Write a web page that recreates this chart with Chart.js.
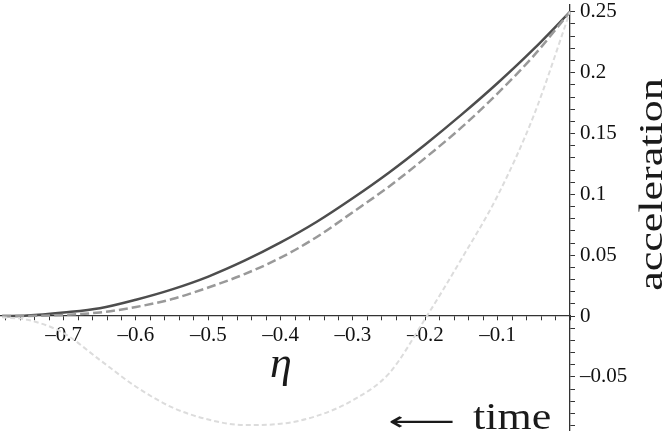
<!DOCTYPE html>
<html>
<head>
<meta charset="utf-8">
<script src="https://cdn.jsdelivr.net/npm/chart.js@4/dist/chart.umd.min.js"></script>
<style>
  html, body { margin: 0; padding: 0; background: #fff; }
  #wrap { width: 664px; height: 436px; }
</style>
</head>
<body>
<div id="wrap"><canvas id="myChart" width="664" height="436"></canvas></div>
<script>
// conformal time eta (x) and the three acceleration curves
const eta = [-0.785, -0.75, -0.7, -0.65, -0.6, -0.55, -0.5, -0.45, -0.4, -0.35, -0.3, -0.25, -0.2, -0.15, -0.1, -0.05, 0];
const solidAcc = [0, 0.0005, 0.003, 0.0065, 0.0135, 0.022, 0.0325, 0.0455, 0.0605, 0.0775, 0.097, 0.118, 0.141, 0.1655, 0.1915, 0.2195, 0.25];
const dashedAcc = [0, 0.0001, 0.001, 0.003, 0.0075, 0.014, 0.0235, 0.0345, 0.048, 0.065, 0.0855, 0.1065, 0.13, 0.155, 0.183, 0.214, 0.25];
const dottedAcc = [-0.001, -0.003, -0.014, -0.036, -0.058, -0.075, -0.085, -0.0895, -0.0885, -0.082, -0.069, -0.047, -0.002, 0.047, 0.099, 0.165, 0.25];

// tick positions (hundredths) and which of them carry a label
const xTickSteps = [];
for (let k = -78; k <= 0; k += 2) xTickSteps.push(k);
const yTickSteps = [];
for (let k = -9; k <= 25; k++) yTickSteps.push(k);
const xLabelSteps = [-70, -60, -50, -40, -30, -20, -10];
const yLabelSteps = [-5, 0, 5, 10, 15, 20, 25];

const serif = '"Liberation Serif", "DejaVu Serif", serif';

const fmt = (k) => {
  if (k === 0) return "0";
  return (k < 0 ? "\u2013" : "") + String(Math.abs(k) / 100);
};

const toPoints = (ys) => eta.map((x, i) => ({ x: x, y: ys[i] }));

const textPlugin = {
  id: "textPlugin",
  afterDraw(chart) {
    const c = chart.ctx;
    c.save();
    c.fillStyle = "#1a1a1a";

    // eta under the x axis
    c.font = "italic 44px " + serif;
    c.textAlign = "center";
    c.textBaseline = "alphabetic";
    c.fillText("\u03b7", 281, 377);

    // "time" with the arrow in front of it
    c.save();
    c.translate(473, 429);
    c.scale(1, 0.85);
    c.textAlign = "left";
    c.font = "44px " + serif;
    c.fillText("time", 0, 0);
    c.restore();

    c.save();
    c.font = "26px \"DejaVu Sans\"";
    const w = c.measureText("\u27f5").width;
    c.translate(388, 423);
    c.scale(67 / w, 1);
    c.textAlign = "left";
    c.textBaseline = "middle";
    c.fillText("\u27f5", 0, 0);
    c.restore();

    // y axis title, reading upwards
    c.save();
    c.translate(662, 184.5);
    c.rotate(-Math.PI / 2);
    c.scale(1, 0.78);
    c.textAlign = "center";
    c.textBaseline = "alphabetic";
    c.font = "44px " + serif;
    c.fillText("acceleration", 0, 0);
    c.restore();

    c.restore();
  },
};

const ctx = document.getElementById("myChart").getContext("2d");

new Chart(ctx, {
  type: "line",
  data: {
    datasets: [
      {
        label: "dotted",
        data: toPoints(dottedAcc),
        borderColor: "#dcdcdc",
        borderWidth: 2,
        borderDash: [5, 3],
        pointRadius: 0,
        cubicInterpolationMode: "monotone",
      },
      {
        label: "dashed",
        data: toPoints(dashedAcc),
        borderColor: "#999999",
        borderWidth: 2.5,
        borderDash: [9, 4],
        pointRadius: 0,
        cubicInterpolationMode: "monotone",
      },
      {
        label: "solid",
        data: toPoints(solidAcc),
        borderColor: "#4d4d4d",
        borderWidth: 2.5,
        pointRadius: 0,
        cubicInterpolationMode: "monotone",
      },
    ],
  },
  options: {
    responsive: false,
    devicePixelRatio: 1,
    animation: false,
    layout: { padding: 0 },
    plugins: {
      legend: { display: false },
      tooltip: { enabled: false },
    },
    scales: {
      x: {
        type: "linear",
        position: { y: 0 },
        min: -0.788,
        max: 0,
        afterBuildTicks: (scale) => {
          scale.ticks = xTickSteps.map((k) => ({ value: k / 100 }));
        },
        ticks: {
          autoSkip: false,
          maxRotation: 0,
          padding: 3,
          color: "#111",
          font: { family: serif, size: 21 },
          callback: (value) => {
            const k = Math.round(value * 100);
            return xLabelSteps.includes(k) ? fmt(k) : "";
          },
        },
        grid: {
          drawOnChartArea: false,
          drawTicks: true,
          tickLength: 4,
          tickColor: "#333",
          tickWidth: 1,
        },
        border: { display: true, color: "#333", width: 1.3 },
      },
      y: {
        type: "linear",
        position: "right",
        min: -0.0943,
        max: 0.2555,
        afterFit: (scale) => {
          scale.width = 94;
        },
        afterBuildTicks: (scale) => {
          scale.ticks = yTickSteps.map((k) => ({ value: k / 100 }));
        },
        ticks: {
          autoSkip: false,
          padding: 5,
          color: "#111",
          font: { family: serif, size: 21, lineHeight: 0.01 },
          callback: (value) => {
            const k = Math.round(value * 100);
            return yLabelSteps.includes(k) ? fmt(k) : "";
          },
        },
        grid: {
          drawOnChartArea: false,
          drawTicks: true,
          tickLength: 5,
          tickColor: "#333",
          tickWidth: 1,
        },
        border: { display: true, color: "#333", width: 1.3 },
      },
    },
  },
  plugins: [textPlugin],
});
</script>
</body>
</html>
